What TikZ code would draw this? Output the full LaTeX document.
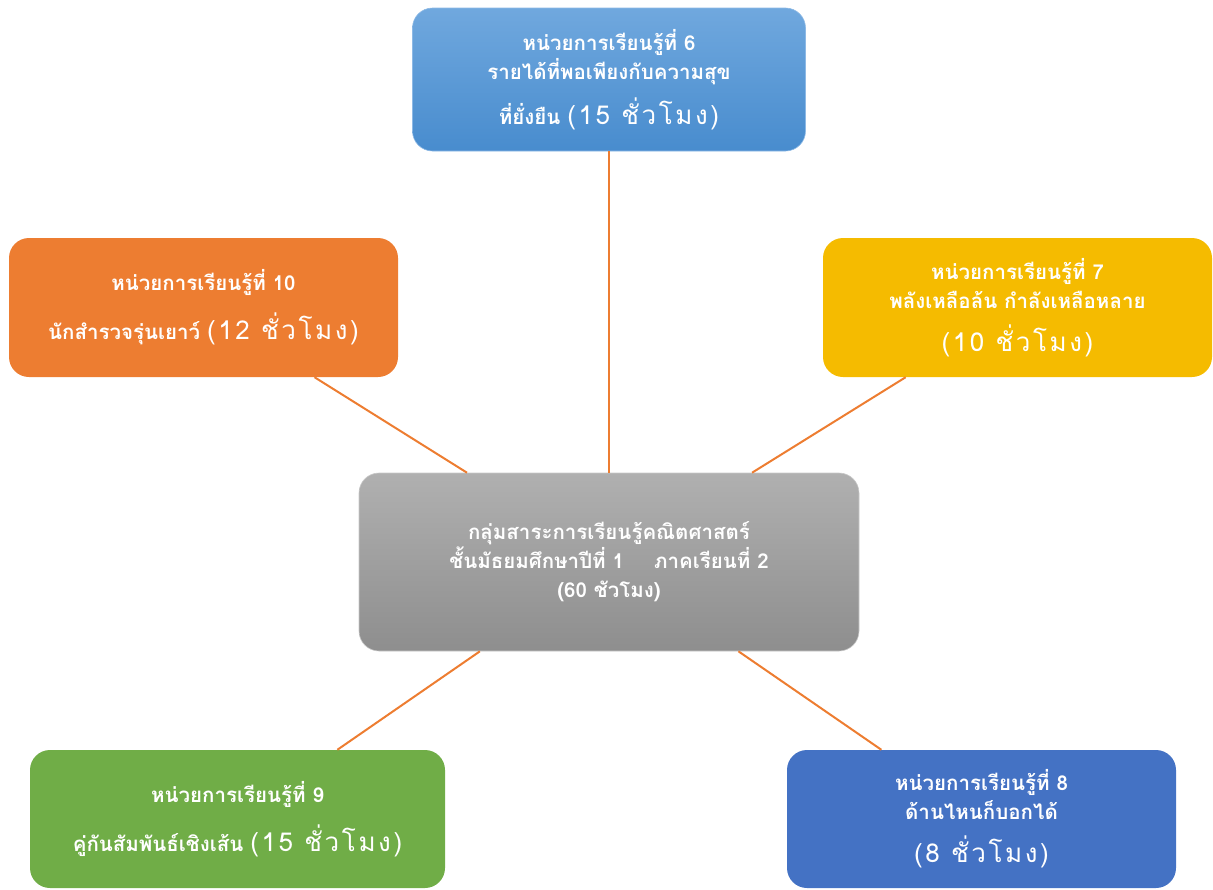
\documentclass[tikz,border=0pt]{standalone}
\usepackage{fontspec}
\setmainfont[Script=Thai]{Loma}
\newfontfamily\thaiwide[Script=Thai,LetterSpace=10]{Loma}
\definecolor{cOrange}{RGB}{237,125,49}
\definecolor{cYellow}{RGB}{245,187,0}
\definecolor{cGreen}{RGB}{112,173,71}
\definecolor{cBlue}{RGB}{68,114,196}
\definecolor{cSkyTop}{RGB}{112,168,222}
\definecolor{cSkyBot}{RGB}{72,140,206}
\definecolor{cGrayTop}{RGB}{176,176,176}
\definecolor{cGrayBot}{RGB}{142,142,142}
\newcommand{\hd}{\fontsize{20.5}{29}\selectfont\bfseries}
\newcommand{\hr}{\fontsize{26}{29}\selectfont\thaiwide\mdseries}
\tikzset{
  unitbox/.style={rectangle, rounded corners=20pt, text=white, align=center, inner sep=0pt, font=\hd},
  link/.style={draw=cOrange, line width=2pt}
}
\begin{document}
\begin{tikzpicture}[x=1pt,y=-1pt]
\useasboundingbox (0,0) rectangle (1213,889);
\node[unitbox, top color=cSkyTop, bottom color=cSkyBot, draw=cSkyTop!80!white, line width=0.6pt,
  minimum width=393pt, minimum height=143pt] (u6) at (609,79.5)
  {หน่วยการเรียนรู้ที่ 6\\รายได้ที่พอเพียงกับความสุข\\[12pt]ที่ยั่งยืน {\hr (15 ชั่วโมง)}};
\node[unitbox, fill=cOrange, minimum width=389pt, minimum height=139pt] (u10) at (203.5,307.5)
  {หน่วยการเรียนรู้ที่ 10\\[16pt]นักสำรวจรุ่นเยาว์ {\hr (12 ชั่วโมง)}};
\node[unitbox, fill=cYellow, minimum width=389pt, minimum height=139pt] (u7) at (1017.5,307.5)
  {หน่วยการเรียนรู้ที่ 7\\พลังเหลือล้น กำลังเหลือหลาย\\[14pt]{\hr (10 ชั่วโมง)}};
\node[unitbox, top color=cGrayTop, bottom color=cGrayBot, draw=cGrayTop!70!white, line width=0.6pt,
  minimum width=500pt, minimum height=178pt] (core) at (609,562)
  {กลุ่มสาระการเรียนรู้คณิตศาสตร์\\ชั้นมัธยมศึกษาปีที่ 1\hspace{30pt}ภาคเรียนที่ 2\\(60 ชัวโมง)};
\node[unitbox, fill=cGreen, minimum width=415pt, minimum height=138pt] (u9) at (237.5,819)
  {หน่วยการเรียนรู้ที่ 9\\[16pt]คู่กันสัมพันธ์เชิงเส้น {\hr (15 ชั่วโมง)}};
\node[unitbox, fill=cBlue, minimum width=389pt, minimum height=138pt] (u8) at (981.5,819)
  {หน่วยการเรียนรู้ที่ 8\\ด้านไหนก็บอกได้\\[14pt]{\hr (8 ชั่วโมง)}};
\draw[link] (u6) -- (core);
\draw[link] (u10) -- (core);
\draw[link] (u7) -- (core);
\draw[link] (u9) -- (core);
\draw[link] (u8) -- (core);
\end{tikzpicture}
\end{document}
